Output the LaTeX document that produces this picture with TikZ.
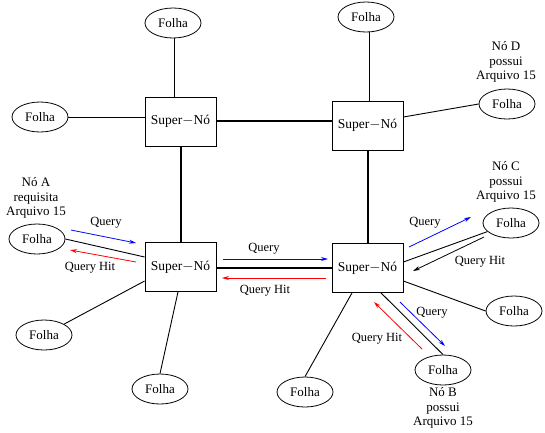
\documentclass[tikz,border=0pt]{standalone}
\usepackage{fontspec}
\setmainfont{Liberation Serif}
\usetikzlibrary{shapes.geometric,arrows.meta}
\tikzset{
  super/.style={draw,thick,minimum width=71pt,minimum height=49pt,inner sep=0pt,font=\fontsize{13.5}{15}\selectfont},
  folha/.style={draw,ellipse,thick,minimum width=56pt,minimum height=30pt,inner sep=0pt,font=\fontsize{13}{15}\selectfont},
  link/.style={line width=0.9pt},
  trunk/.style={line width=2pt},
  msg/.style={line width=0.8pt,-{Stealth[length=7pt,width=4pt]}},
  lbl/.style={font=\fontsize{12.5}{14}\selectfont,align=center},
  note/.style={font=\fontsize{13}{14.5}\selectfont,align=center}
}
\begin{document}
\begin{tikzpicture}[x=1pt,y=-1pt]
\useasboundingbox (0,0) rectangle (545,432);
% super-nodes
\node[super] (tl) at (180.5,121.5) {Super$-$Nó};
\node[super] (tr) at (367.5,125.5) {Super$-$Nó};
\node[super] (bl) at (180.5,267) {Super$-$Nó};
\node[super] (br) at (367.5,268) {Super$-$Nó};
% leaves
\node[folha] (f1) at (173,23) {Folha};
\node[folha] (f2) at (40,117) {Folha};
\node[folha] (f3) at (366,17) {Folha};
\node[folha] (f4) at (507,104) {Folha};
\node[folha] (fa) at (37,239) {Folha};
\node[folha] (f6) at (44,335) {Folha};
\node[folha] (f7) at (160,389) {Folha};
\node[folha] (fc) at (511,223) {Folha};
\node[folha] (f9) at (514,311) {Folha};
\node[folha] (fb) at (443,370) {Folha};
\node[folha] (f11) at (305,392) {Folha};
% notes
\node[note] (nd) at (506,62) {Nó D\\possui\\Arquivo 15};
\node[note] (nc) at (506,182) {Nó C\\possui\\Arquivo 15};
\node[note] (na) at (36,198) {Nó A\\requisita\\Arquivo 15};
\node[note] (nb) at (443,408) {Nó B\\possui\\Arquivo 15};
% backbone between super-nodes
\draw[trunk] (tl.east |- 0,121) -- (tr.west |- 0,121);
\draw[trunk] (tl.south -| 181,0) -- (bl.north -| 181,0);
\draw[trunk] (tr.south -| 368,0) -- (br.north -| 368,0);
\draw[trunk] (bl.east |- 0,268) -- (br.west |- 0,268);
% leaf links
\draw[link] (f1.south -| 174,0) -- (tl.north -| 174,0);
\draw[link] (f2.east) -- (tl.west |- 0,117);
\draw[link] (f3.south -| 369,0) -- (tr.north -| 369,0);
\draw[link] (f4.west) -- (tr.east |- 0,117);
\draw[link] (fa.east) -- (bl.west |- 0,257);
\draw[link] (f6.north east) -- (bl.west |- 0,281);
\draw[link] (f7.north) -- (bl.south -| 178,0);
\draw[link] (fc.200) -- (br.east |- 0,262);
\draw[link] (f9.west) -- (br.east |- 0,281);
\draw[link] (fb.north) -- (br.south -| 381,0);
\draw[link] (f11.north) -- (br.south -| 352,0);
% message endpoints
\coordinate (qa1) at (71,230);  \coordinate (qa2) at (136,243);
\coordinate (ha1) at (136,262); \coordinate (ha2) at (70,250);
\coordinate (qm1) at (223,259); \coordinate (qm2) at (328,259);
\coordinate (hm1) at (326,278); \coordinate (hm2) at (222,278);
\coordinate (qc1) at (409,247); \coordinate (qc2) at (471,217);
\coordinate (hc1) at (484,237); \coordinate (hc2) at (413,271);
\coordinate (qb1) at (400,302); \coordinate (qb2) at (445,346);
\coordinate (hb1) at (422,349); \coordinate (hb2) at (374,302);
% messages
\draw[msg,blue] (qa1) -- (qa2);
\draw[msg,red] (ha1) -- (ha2);
\draw[msg,blue] (qm1) -- (qm2);
\draw[msg,red] (hm1) -- (hm2);
\draw[msg,blue] (qc1) -- (qc2);
\draw[msg,black] (hc1) -- (hc2);
\draw[msg,blue] (qb1) -- (qb2);
\draw[msg,red] (hb1) -- (hb2);
% message labels
\node[lbl] (lqa) at (106,223) {Query};
\node[lbl] (lha) at (90,268) {Query Hit};
\node[lbl] (lqm) at (264,249) {Query};
\node[lbl] (lhm) at (265,291) {Query Hit};
\node[lbl] (lqc) at (425,223) {Query};
\node[lbl] (lhc) at (480,262) {Query Hit};
\node[lbl] (lqb) at (432,313) {Query};
\node[lbl] (lhb) at (377,339) {Query Hit};
\end{tikzpicture}
\end{document}
